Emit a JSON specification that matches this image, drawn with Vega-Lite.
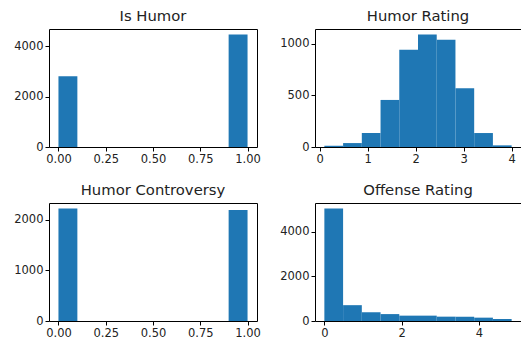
{
  "$schema": "https://vega.github.io/schema/vega-lite/v6.json",
  "background": "white",
  "padding": {"left": 13, "top": 8, "right": 0, "bottom": 0},
  "datasets": {
    "is_humor": [
      {"bin_start": 0.0, "bin_end": 0.1, "count": 2810},
      {"bin_start": 0.9, "bin_end": 1.0, "count": 4460}
    ],
    "humor_rating": [
      {"bin_start": 0.1, "bin_end": 0.49, "count": 12},
      {"bin_start": 0.49, "bin_end": 0.88, "count": 38},
      {"bin_start": 0.88, "bin_end": 1.27, "count": 135},
      {"bin_start": 1.27, "bin_end": 1.66, "count": 455},
      {"bin_start": 1.66, "bin_end": 2.05, "count": 940},
      {"bin_start": 2.05, "bin_end": 2.44, "count": 1087},
      {"bin_start": 2.44, "bin_end": 2.83, "count": 1038},
      {"bin_start": 2.83, "bin_end": 3.22, "count": 567},
      {"bin_start": 3.22, "bin_end": 3.61, "count": 135},
      {"bin_start": 3.61, "bin_end": 4.0, "count": 16}
    ],
    "humor_controversy": [
      {"bin_start": 0.0, "bin_end": 0.1, "count": 2220},
      {"bin_start": 0.9, "bin_end": 1.0, "count": 2195}
    ],
    "offense_rating": [
      {"bin_start": 0.0, "bin_end": 0.485, "count": 5040},
      {"bin_start": 0.485, "bin_end": 0.97, "count": 710},
      {"bin_start": 0.97, "bin_end": 1.455, "count": 395},
      {"bin_start": 1.455, "bin_end": 1.94, "count": 310},
      {"bin_start": 1.94, "bin_end": 2.425, "count": 240},
      {"bin_start": 2.425, "bin_end": 2.91, "count": 240},
      {"bin_start": 2.91, "bin_end": 3.395, "count": 195},
      {"bin_start": 3.395, "bin_end": 3.88, "count": 195},
      {"bin_start": 3.88, "bin_end": 4.365, "count": 150},
      {"bin_start": 4.365, "bin_end": 4.85, "count": 90}
    ]
  },
  "config": {
    "font": "DejaVu Sans",
    "view": {"stroke": "black", "strokeWidth": 1},
    "axis": {
      "grid": false,
      "domain": false,
      "ticks": true,
      "tickColor": "black",
      "tickSize": 4,
      "labelFont": "DejaVu Sans",
      "labelFontSize": 11.5,
      "labelColor": "#222",
      "labelPadding": 2,
      "title": null
    },
    "title": {
      "font": "DejaVu Sans",
      "fontSize": 14.8,
      "fontWeight": "normal",
      "color": "#222",
      "offset": 5
    },
    "bar": {"color": "#1f77b4"}
  },
  "columns": 2,
  "spacing": {"column": 58, "row": 56},
  "bounds": "flush",
  "concat": [
    {
      "title": "Is Humor",
      "width": 208,
      "height": 118,
      "data": {"name": "is_humor"},
      "mark": {"type": "bar", "clip": true},
      "encoding": {
        "x": {"field": "bin_start", "type": "quantitative", "scale": {"domain": [-0.05, 1.05], "nice": false, "zero": false}, "axis": {"values": [0, 0.25, 0.5, 0.75, 1.0], "format": ".2f"}},
        "x2": {"field": "bin_end"},
        "y": {"field": "count", "type": "quantitative", "scale": {"domain": [0, 4683], "nice": false}, "axis": {"values": [0, 2000, 4000], "format": "d"}},
        "y2": {"datum": 0}
      }
    },
    {
      "title": "Humor Rating",
      "width": 206,
      "height": 118,
      "data": {"name": "humor_rating"},
      "mark": {"type": "bar", "clip": true},
      "encoding": {
        "x": {"field": "bin_start", "type": "quantitative", "scale": {"domain": [-0.095, 4.195], "nice": false, "zero": false}, "axis": {"values": [0, 1, 2, 3, 4], "format": "d"}},
        "x2": {"field": "bin_end"},
        "y": {"field": "count", "type": "quantitative", "scale": {"domain": [0, 1141], "nice": false}, "axis": {"values": [0, 500, 1000], "format": "d"}},
        "y2": {"datum": 0}
      }
    },
    {
      "title": "Humor Controversy",
      "width": 208,
      "height": 118,
      "data": {"name": "humor_controversy"},
      "mark": {"type": "bar", "clip": true},
      "encoding": {
        "x": {"field": "bin_start", "type": "quantitative", "scale": {"domain": [-0.05, 1.05], "nice": false, "zero": false}, "axis": {"values": [0, 0.25, 0.5, 0.75, 1.0], "format": ".2f"}},
        "x2": {"field": "bin_end"},
        "y": {"field": "count", "type": "quantitative", "scale": {"domain": [0, 2331], "nice": false}, "axis": {"values": [0, 1000, 2000], "format": "d"}},
        "y2": {"datum": 0}
      }
    },
    {
      "title": "Offense Rating",
      "width": 206,
      "height": 118,
      "data": {"name": "offense_rating"},
      "mark": {"type": "bar", "clip": true},
      "encoding": {
        "x": {"field": "bin_start", "type": "quantitative", "scale": {"domain": [-0.2425, 5.0925], "nice": false, "zero": false}, "axis": {"values": [0, 2, 4], "format": "d"}},
        "x2": {"field": "bin_end"},
        "y": {"field": "count", "type": "quantitative", "scale": {"domain": [0, 5292], "nice": false}, "axis": {"values": [0, 2000, 4000], "format": "d"}},
        "y2": {"datum": 0}
      }
    }
  ]
}
